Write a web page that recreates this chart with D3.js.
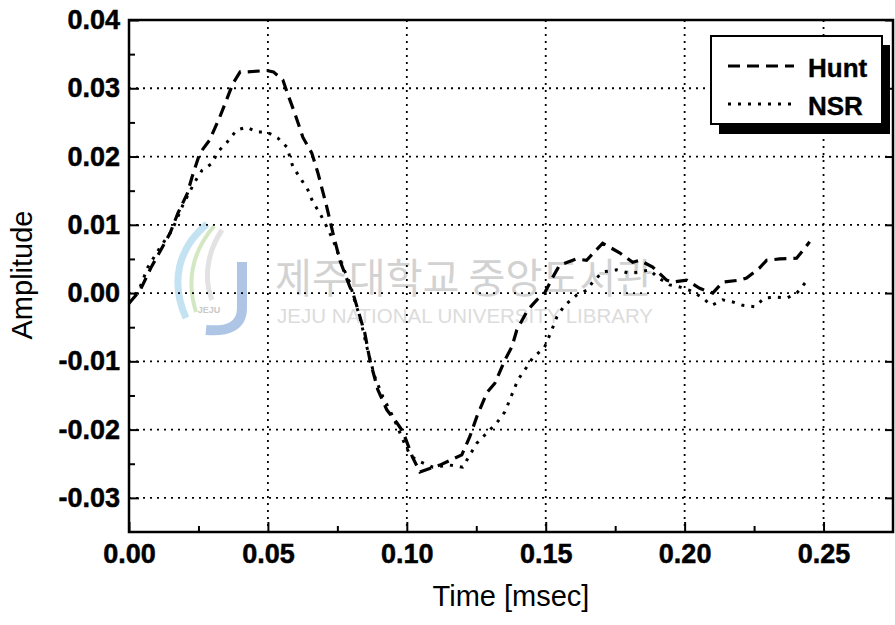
<!DOCTYPE html>
<meta charset="utf-8">
<style>

body {
  margin: 0;
  background: #fff;
}

svg {
  display: block;
  font-family: "Liberation Sans", Arial, sans-serif;
}

.axis .tick text {
  font-size: 27px;
  font-weight: bold;
  fill: #000;
  stroke: #000;
  stroke-width: 0.5px;
}

.axis .tick line {
  stroke: #000;
  stroke-width: 2;
}

.grid line {
  stroke: #000;
  stroke-width: 1.8;
  stroke-dasharray: 2,5;
}

</style>
<svg id="chart" width="895" height="625"></svg>
<script src="https://cdn.jsdelivr.net/npm/d3@7"></script>
<script>

// [time (msec), amplitude]
let hunt = [
  [0, -0.0015], [0.004, 0.0004], [0.008, 0.0038], [0.012, 0.0067], [0.0148, 0.0088],
  [0.0176, 0.0117], [0.021, 0.0146], [0.0227, 0.017], [0.0255, 0.0205], [0.029, 0.0224],
  [0.0327, 0.0258], [0.0374, 0.0307], [0.040, 0.0324], [0.0424, 0.0324], [0.0496, 0.0326],
  [0.052, 0.0324], [0.0554, 0.0312], [0.057, 0.0293], [0.0597, 0.0263], [0.0626, 0.0228],
  [0.0658, 0.0205], [0.068, 0.0176], [0.0712, 0.0126], [0.0734, 0.0088], [0.0759, 0.0048],
  [0.0795, 0.0009], [0.0806, 0], [0.0849, -0.0059], [0.0867, -0.0098], [0.0896, -0.0142],
  [0.0928, -0.0171], [0.0964, -0.019], [0.0986, -0.0203], [0.102, -0.024], [0.1047, -0.0262],
  [0.1119, -0.0252], [0.1198, -0.0237], [0.1227, -0.021], [0.1252, -0.0181], [0.1288, -0.0146],
  [0.1317, -0.0132], [0.1353, -0.0098], [0.1378, -0.0079], [0.1396, -0.0054], [0.1435, -0.0025],
  [0.1468, -0.001], [0.1496, 0], [0.1525, 0.0023], [0.155, 0.0041], [0.1611, 0.005],
  [0.1647, 0.0048], [0.1705, 0.0073], [0.1766, 0.0059], [0.1813, 0.0045], [0.1838, 0.0048],
  [0.1885, 0.0038], [0.1935, 0.0019], [0.1957, 0.0016], [0.2007, 0.0019], [0.2054, 0.0007],
  [0.2101, 0], [0.2137, 0.0016], [0.2198, 0.0019], [0.2223, 0.0022], [0.227, 0.0037],
  [0.2295, 0.0048], [0.2342, 0.005], [0.2403, 0.0051], [0.245, 0.0075]
];

let nsr = [
  [0, -0.0015], [0.004, 0.0009], [0.0068, 0.0038], [0.0112, 0.0067], [0.0155, 0.0092],
  [0.0195, 0.013], [0.0237, 0.0163], [0.0263, 0.018], [0.0299, 0.019], [0.032, 0.0207],
  [0.0353, 0.0221], [0.0388, 0.0239], [0.0424, 0.0243], [0.046, 0.0236], [0.0496, 0.0236],
  [0.0536, 0.0227], [0.0568, 0.0214], [0.059, 0.0185], [0.0622, 0.0165], [0.0644, 0.0151],
  [0.0662, 0.0133], [0.0687, 0.0117], [0.0712, 0.0097], [0.0734, 0.0078], [0.0752, 0.0059],
  [0.077, 0.0038], [0.0795, 0.0015], [0.081, -0.0008], [0.0831, -0.0035], [0.0856, -0.0079],
  [0.0885, -0.0123], [0.0914, -0.0152], [0.095, -0.0181], [0.0986, -0.0215], [0.1011, -0.0237],
  [0.1036, -0.0245], [0.1094, -0.0255], [0.1155, -0.0252], [0.1201, -0.0255], [0.1227, -0.0237],
  [0.1252, -0.022], [0.1288, -0.0205], [0.1324, -0.019], [0.1353, -0.0174], [0.1381, -0.0146],
  [0.14, -0.0127], [0.1424, -0.0113], [0.1453, -0.0095], [0.1478, -0.0086], [0.1496, -0.0079],
  [0.1522, -0.0054], [0.154, -0.0035], [0.1568, -0.0018], [0.1611, -0.0003], [0.1647, 0.0004],
  [0.1669, 0.0016], [0.1705, 0.0031], [0.1755, 0.0034], [0.1802, 0.0029], [0.1838, 0.0031],
  [0.1874, 0.0034], [0.1903, 0.0023], [0.1946, 0.0012], [0.1982, 0.0009], [0.2018, 0.0004],
  [0.2061, -0.0006], [0.2097, -0.0018], [0.2137, -0.001], [0.2173, -0.0013], [0.2209, -0.0018],
  [0.2252, -0.002], [0.2288, -0.0007], [0.2331, -0.0006], [0.237, -0.0007], [0.2406, 0.0001],
  [0.2442, 0.0019]
];

let seriesNames = ["Hunt", "NSR"];
let xTicks = [0, 0.05, 0.10, 0.15, 0.20, 0.25];
let xMinor = [0.025, 0.075, 0.125, 0.175, 0.225];
let yTicks = [-0.03, -0.02, -0.01, 0, 0.01, 0.02, 0.03, 0.04];
let yMinor = [-0.025, -0.015, -0.005, 0.005, 0.015, 0.025, 0.035];

let plotL = 129, plotR = 893, plotT = 20, plotB = 532;

let x = d3.scaleLinear().domain([0, 0.275]).range([plotL, plotR]);
let y = d3.scaleLinear().domain([-0.035, 0.04]).range([plotB, plotT]);

// plain hyphen for negatives, like the original
let fmt = d3.formatLocale({decimal: ".", thousands: ",", grouping: [3], currency: ["", ""], minus: "-"}).format(".2f");

let svg = d3.select("#chart");

svg.append("rect").attr("width", 895).attr("height", 625).attr("fill", "#fff");

// library watermark
let wm = svg.append("g").attr("class", "watermark");
wm.append("path")
    .attr("d", "M207,224 C178,248 170,282 186,318")
    .attr("fill", "none").attr("stroke", "#c4e3f2").attr("stroke-width", 7);
wm.append("path")
    .attr("d", "M214,226 C192,252 186,280 196,312")
    .attr("fill", "none").attr("stroke", "#d3e8c2").attr("stroke-width", 4);
wm.append("path")
    .attr("d", "M222,230 C206,254 204,280 212,300")
    .attr("fill", "none").attr("stroke", "#e2e2e2").attr("stroke-width", 5);
wm.append("path")
    .attr("d", "M242,262 L242,308 C242,326 228,332 206,330")
    .attr("fill", "none").attr("stroke", "#aec5e6").attr("stroke-width", 10);
wm.append("text")
    .attr("x", 209).attr("y", 313)
    .attr("text-anchor", "middle")
    .attr("font-size", 9).attr("font-weight", "bold")
    .attr("fill", "#c8c8c8")
    .text("JEJU");
wm.append("text")
    .attr("x", 275).attr("y", 293)
    .attr("font-family", "'Noto Sans CJK KR', sans-serif")
    .attr("font-size", 41)
    .attr("textLength", 378).attr("lengthAdjust", "spacingAndGlyphs")
    .attr("fill", "#d2d2d2")
    .text("제주대학교 중앙도서관");
wm.append("text")
    .attr("x", 277).attr("y", 323)
    .attr("font-size", 21)
    .attr("textLength", 376).attr("lengthAdjust", "spacingAndGlyphs")
    .attr("fill", "#dcdcdc")
    .text("JEJU NATIONAL UNIVERSITY  LIBRARY");

// dotted grid
let grid = svg.append("g").attr("class", "grid");
grid.selectAll(".gx")
    .data(xTicks.filter(d => d > 0))
  .enter().append("line")
    .attr("x1", d => x(d)).attr("x2", d => x(d))
    .attr("y1", plotT).attr("y2", plotB);
grid.selectAll(".gy")
    .data(yTicks.filter(d => d < 0.04))
  .enter().append("line")
    .attr("x1", plotL).attr("x2", plotR)
    .attr("y1", d => y(d)).attr("y2", d => y(d));

// axes, ticks pointing inward
svg.append("g").attr("class", "axis")
    .attr("transform", "translate(0," + plotB + ")")
    .call(d3.axisBottom(x).tickValues(xTicks).tickFormat(fmt).tickSize(-10).tickPadding(12));
svg.append("g").attr("class", "axis")
    .attr("transform", "translate(0," + plotB + ")")
    .call(d3.axisBottom(x).tickValues(xMinor).tickFormat("").tickSize(-6));

svg.append("g").attr("class", "axis")
    .attr("transform", "translate(" + plotL + ",0)")
    .call(d3.axisLeft(y).tickValues(yTicks).tickFormat(fmt).tickSize(-10).tickPadding(9));
svg.append("g").attr("class", "axis")
    .attr("transform", "translate(" + plotL + ",0)")
    .call(d3.axisLeft(y).tickValues(yMinor).tickFormat("").tickSize(-6));

svg.append("g").attr("class", "axis")
    .attr("transform", "translate(" + plotR + ",0)")
    .call(d3.axisRight(y).tickValues(yTicks).tickFormat("").tickSize(-8));

svg.selectAll(".axis .domain").remove();

svg.append("rect")
    .attr("x", plotL).attr("y", plotT)
    .attr("width", plotR - plotL).attr("height", plotB - plotT)
    .attr("fill", "none").attr("stroke", "#000").attr("stroke-width", 2.5);

// curves
let line = d3.line()
    .x(d => x(d[0]))
    .y(d => y(d[1]));

let dashes = {"Hunt": "12,7", "NSR": "3,7"};

svg.append("path")
    .datum(hunt)
    .attr("d", line)
    .attr("fill", "none").attr("stroke", "#000").attr("stroke-width", 3.2)
    .attr("stroke-dasharray", dashes["Hunt"]);

svg.append("path")
    .datum(nsr)
    .attr("d", line)
    .attr("fill", "none").attr("stroke", "#000").attr("stroke-width", 3)
    .attr("stroke-dasharray", dashes["NSR"]);

// legend with drop shadow
let legend = svg.append("g");
legend.append("rect")
    .attr("x", 719).attr("y", 45).attr("width", 171).attr("height", 89)
    .attr("fill", "#000");
legend.append("rect")
    .attr("x", 711).attr("y", 36).attr("width", 171).attr("height", 88)
    .attr("fill", "#fff").attr("stroke", "#000").attr("stroke-width", 2);

let item = legend.selectAll(".item")
    .data(seriesNames)
  .enter().append("g")
    .attr("transform", (d, i) => "translate(0," + (66 + i * 38) + ")");

item.append("line")
    .attr("x1", 728).attr("x2", 794)
    .attr("stroke", "#000").attr("stroke-width", 3)
    .attr("stroke-dasharray", d => dashes[d]);

item.append("text")
    .attr("x", 808).attr("y", 11)
    .attr("font-size", 26).attr("font-weight", "bold")
    .attr("stroke", "#000").attr("stroke-width", 0.4)
    .text(d => d);

// axis titles
svg.append("text")
    .attr("x", (plotL + plotR) / 2).attr("y", 606)
    .attr("text-anchor", "middle")
    .attr("font-size", 29)
    .text("Time [msec]");

svg.append("text")
    .attr("transform", "translate(32,275) rotate(-90)")
    .attr("text-anchor", "middle")
    .attr("font-size", 29)
    .text("Amplitude");

</script>
